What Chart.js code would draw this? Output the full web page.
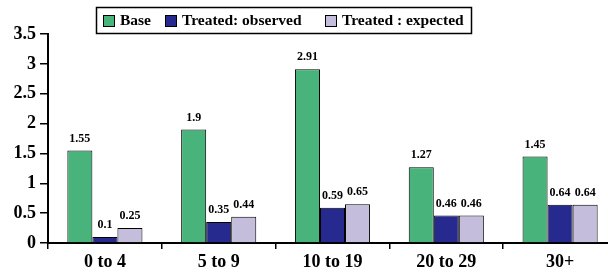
<!DOCTYPE html>
<html>
<head>
<meta charset="utf-8">
<script src="https://cdn.jsdelivr.net/npm/chart.js@4"></script>
<style>
  html, body { margin: 0; padding: 0; background: #fff; overflow: hidden; }
  #wrap { width: 608px; height: 277px; overflow: hidden; position: relative; }
  #inner { width: 618px; height: 277px; position: absolute; left: 0; top: 0; }
</style>
</head>
<body>
<div id="wrap"><div id="inner"><canvas id="canvas"></canvas></div></div>
<script>
// data
var ageGroups = ['0 to 4', '5 to 9', '10 to 19', '20 to 29', '30+'];
var baseVals = [1.55, 1.9, 2.91, 1.27, 1.45];
var observedVals = [0.1, 0.35, 0.59, 0.46, 0.64];
var expectedVals = [0.25, 0.44, 0.65, 0.46, 0.64];
var seriesNames = ['Base', 'Treated: observed', 'Treated : expected'];
var yTicks = [0, 0.5, 1, 1.5, 2, 2.5, 3, 3.5];

var colors = ['#48B47B', '#262A8F', '#C4BEDC'];
var serif = '"Liberation Serif", "Times New Roman", serif';

// value labels above each bar
var barLabels = {
  id: 'barLabels',
  afterDatasetsDraw: function (chart) {
    var ctx = chart.ctx;
    ctx.save();
    ctx.font = 'bold 12px ' + serif;
    ctx.fillStyle = '#000';
    ctx.textAlign = 'center';
    ctx.textBaseline = 'bottom';
    chart.data.datasets.forEach(function (ds, i) {
      chart.getDatasetMeta(i).data.forEach(function (bar, j) {
        ctx.fillText(String(ds.data[j]), bar.x, bar.y - 6);
      });
    });
    ctx.restore();
  }
};

// boxed legend at the top
var boxLegend = {
  id: 'boxLegend',
  afterDraw: function (chart) {
    var ctx = chart.ctx;
    ctx.save();
    ctx.lineWidth = 1.5;
    ctx.strokeStyle = '#000';
    ctx.strokeRect(96.5, 7.5, 375, 26);
    var swatchX = [103, 165, 325];
    ctx.font = 'bold 15.5px ' + serif;
    ctx.textBaseline = 'middle';
    ctx.textAlign = 'left';
    seriesNames.forEach(function (name, i) {
      ctx.fillStyle = colors[i];
      ctx.fillRect(swatchX[i], 15, 11, 11);
      ctx.lineWidth = 1;
      ctx.strokeRect(swatchX[i] + 0.5, 15.5, 11, 11);
      ctx.fillStyle = '#000';
      ctx.fillText(name, swatchX[i] + 17, 21);
    });
    ctx.restore();
  }
};

var ctx = document.getElementById('canvas');
new Chart(ctx, {
  type: 'bar',
  data: {
    labels: ageGroups,
    datasets: [
      { label: seriesNames[0], data: baseVals, backgroundColor: colors[0], borderColor: '#000', borderWidth: 1 },
      { label: seriesNames[1], data: observedVals, backgroundColor: colors[1], borderColor: '#000', borderWidth: 1 },
      { label: seriesNames[2], data: expectedVals, backgroundColor: colors[2], borderColor: '#000', borderWidth: 1 }
    ]
  },
  options: {
    responsive: true,
    maintainAspectRatio: false,
    animation: false,
    layout: { padding: { top: 34, right: 1, left: 0, bottom: 0 } },
    datasets: { bar: { categoryPercentage: 0.66, barPercentage: 1 } },
    plugins: {
      legend: { display: false },
      tooltip: { enabled: false }
    },
    scales: {
      x: {
        grid: { display: true, drawOnChartArea: false, drawTicks: true, tickLength: 6, color: '#000', lineWidth: 1.5, offset: true },
        border: { display: true, color: '#000', width: 2 },
        ticks: { color: '#000', font: { family: serif, size: 18, weight: 'bold' }, padding: 3 },
        afterFit: function (scale) { scale.height = 34; }
      },
      y: {
        min: 0,
        max: 3.5,
        afterBuildTicks: function (scale) {
          scale.ticks = yTicks.map(function (v) { return { value: v }; });
        },
        grid: { display: true, drawOnChartArea: false, drawTicks: true, tickLength: 8, color: '#000', lineWidth: 1.5 },
        border: { display: true, color: '#000', width: 2 },
        ticks: {
          color: '#000',
          font: { family: serif, size: 18, weight: 'bold' },
          padding: 4,
          callback: function (v) { return String(v); }
        },
        afterFit: function (scale) { scale.width = 48; }
      }
    }
  },
  plugins: [barLabels, boxLegend]
});
</script>
</body>
</html>
